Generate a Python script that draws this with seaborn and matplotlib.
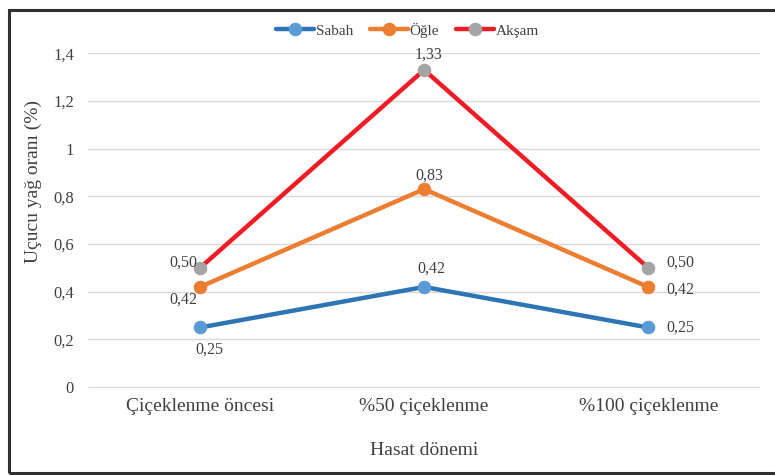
import pandas as pd
import seaborn as sns
import matplotlib.pyplot as plt
from matplotlib.patches import Rectangle

# data
donem = ["Çiçeklenme öncesi", "%50 çiçeklenme", "%100 çiçeklenme"]
sabah = [0.25, 0.42, 0.25]
ogle = [0.42, 0.83, 0.42]
aksam = [0.50, 1.33, 0.50]

series = [
    ("Sabah", sabah, "#2E75B6", "#5B9BD5"),
    ("Öğle", ogle, "#ED7D31", "#ED7D31"),
    ("Akşam", aksam, "#EE1C24", "#A5A5A5"),
]

sns.set_style("white")
plt.rcParams['font.family'] = ['Liberation Serif', 'DejaVu Serif']
txt = "#404040"

fig = plt.figure(figsize=(7.75, 4.75), dpi=100)
ax = fig.add_axes([0.1135, 0.183, 0.981 - 0.1135, 0.888 - 0.183])

for name, vals, lc, mc in series:
    df = pd.DataFrame({"donem": donem, "oran": vals})
    sns.lineplot(data=df, x="donem", y="oran", ax=ax, color=lc, linewidth=3.2,
                 marker="o", markersize=9, markerfacecolor=mc, markeredgecolor=mc,
                 label=name, sort=False)

# data labels (offsets in points)
def fmt(v):
    return f"{v:.2f}".replace(".", ",")

def lab(v, i, dx, dy, ha="center"):
    ax.annotate(fmt(v), (i, v), xytext=(dx, dy), textcoords="offset points",
                ha=ha, va="center", fontsize=11.5, color=txt)

lab(sabah[0], 0, 7, -16)
lab(sabah[1], 1, 5, 13)
lab(sabah[2], 2, 13, 0, "left")
lab(ogle[0], 0, -12, -9)
lab(ogle[1], 1, 4, 10)
lab(ogle[2], 2, 13, -2, "left")
lab(aksam[0], 0, -12, 4)
lab(aksam[1], 1, 3, 11)
lab(aksam[2], 2, 13, 4, "left")

ax.set_xlim(-0.5, 2.5)
ax.set_ylim(-0.004, 1.4)
yt = [0, 0.2, 0.4, 0.6, 0.8, 1.0, 1.2, 1.4]
ax.set_yticks(yt)
ax.set_yticklabels(["0", "0,2", "0,4", "0,6", "0,8", "1", "1,2", "1,4"], fontsize=12, color=txt)
ax.tick_params(axis="x", labelsize=14, labelcolor=txt, pad=7, length=0)
ax.tick_params(axis="y", length=0, pad=10)
ax.yaxis.grid(True, color="#D9D9D9", linewidth=1)
for s in ax.spines.values():
    s.set_visible(False)
ax.set_xlabel("Hasat dönemi", fontsize=14, color=txt)
ax.xaxis.set_label_coords(0.5, -0.162)
ax.set_ylabel("Uçucu yağ oranı (%)", fontsize=14, color=txt)
ax.yaxis.set_label_coords(-0.068, 0.618)

ax.legend(loc="center", bbox_to_anchor=(0.475, 1.069), ncol=3, frameon=False,
          fontsize=11, handlelength=2.5, handletextpad=0.1, columnspacing=1.1,
          labelcolor=txt)

fig.patches.append(Rectangle((0.012, 0.004), 1.2, 0.975, transform=fig.transFigure,
                             fill=False, edgecolor="#303030", linewidth=2.2))

fig.savefig("out.png", dpi=100)
